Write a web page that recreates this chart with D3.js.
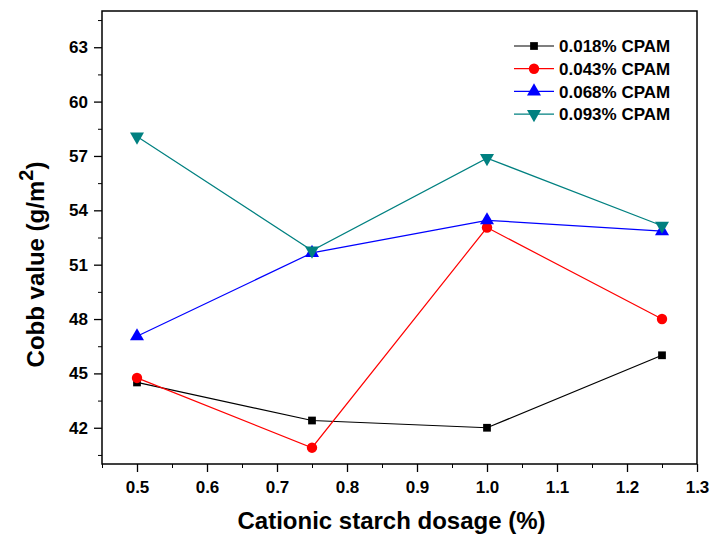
<!DOCTYPE html>
<html>
<head>
<meta charset="utf-8">
<script src="https://cdn.jsdelivr.net/npm/d3@7"></script>
<style>
  body { margin: 0; background: #fff; }
  svg text { font-family: "Liberation Sans", Arial, sans-serif; font-weight: bold; }
</style>
</head>
<body>
<svg id="chart"></svg>
<script>
// data
const dosage = [0.5, 0.75, 1.0, 1.25];
const cpam018 = [44.5, 42.4, 42.0, 46.0];
const cpam043 = [44.75, 40.9, 53.05, 48.0];
const cpam068 = [47.05, 51.65, 53.45, 52.85];
const cpam093 = [58.07, 51.78, 56.88, 53.15];
const seriesNames = ['0.018% CPAM', '0.043% CPAM', '0.068% CPAM', '0.093% CPAM'];
const yTicks = [42, 45, 48, 51, 54, 57, 60, 63];
const xTicks = [0.5, 0.6, 0.7, 0.8, 0.9, 1.0, 1.1, 1.2, 1.3];

const series = [
  {name: seriesNames[0], values: cpam018, color: '#000000', symbol: d3.symbolSquare},
  {name: seriesNames[1], values: cpam043, color: '#ff0000', symbol: d3.symbolCircle},
  {name: seriesNames[2], values: cpam068, color: '#0000ff', symbol: d3.symbolTriangle},
  {name: seriesNames[3], values: cpam093, color: '#008080', symbol: 'down'}
];

const width = 710, height = 535;
const margin = {top: 11, right: 13, bottom: 71, left: 102};
const w = width - margin.left - margin.right;
const h = height - margin.top - margin.bottom;

const svg = d3.select('#chart').attr('width', width).attr('height', height);
const chart = svg.append('g').attr('transform', `translate(${margin.left},${margin.top})`);

const x = d3.scaleLinear().domain([0.45, 1.3]).range([0, w]);
const y = d3.scaleLinear().domain([40, 65]).range([h, 0]);

// minor ticks
const xMinor = d3.range(0.45, 1.31, 0.1).map(v => +v.toFixed(2));
const yMinor = d3.range(40.5, 65, 3);

chart.append('g')
  .attr('transform', `translate(0,${h})`)
  .call(d3.axisBottom(x).tickValues(xMinor).tickSize(4).tickFormat(''))
  .call(g => g.select('.domain').remove());
chart.append('g')
  .call(d3.axisLeft(y).tickValues(yMinor).tickSize(4).tickFormat(''))
  .call(g => g.select('.domain').remove());

const xAxisG = chart.append('g')
  .attr('transform', `translate(0,${h})`)
  .call(d3.axisBottom(x).tickValues(xTicks).tickSize(8).tickPadding(9).tickFormat(d3.format('.1f')));
const yAxisG = chart.append('g')
  .call(d3.axisLeft(y).tickValues(yTicks).tickSize(8).tickPadding(6).tickFormat(d3.format('d')));

[xAxisG, yAxisG].forEach(g => {
  g.selectAll('text').style('font-size', '17px').attr('fill', '#000');
  g.selectAll('line').attr('stroke-width', 1.3);
  g.select('.domain').remove();
});

// frame
chart.append('rect')
  .attr('width', w).attr('height', h)
  .attr('fill', 'none').attr('stroke', '#000').attr('stroke-width', 1.5);

const markerPath = s => {
  if (s === 'down') return d3.symbol(d3.symbolTriangle).size(85)();
  if (s === d3.symbolSquare) return d3.symbol(s).size(60)();
  return d3.symbol(s).size(85)();
};

const line = d3.line().x(d => x(d[0])).y(d => y(d[1]));

series.forEach(s => {
  const pts = dosage.map((d, i) => [d, s.values[i]]);
  chart.append('path')
    .datum(pts)
    .attr('fill', 'none')
    .attr('stroke', s.color)
    .attr('stroke-width', 1.2)
    .attr('d', line);
  chart.selectAll(null)
    .data(pts)
    .join('path')
    .attr('d', markerPath(s.symbol))
    .attr('fill', s.color)
    .attr('transform', d => `translate(${x(d[0])},${y(d[1])})${s.symbol === 'down' ? ' rotate(180)' : ''}`);
});

// legend
const legend = svg.append('g').attr('transform', 'translate(514,46)');
series.forEach((s, i) => {
  const row = legend.append('g').attr('transform', `translate(0,${i * 22.7})`);
  row.append('line').attr('x1', 0).attr('x2', 40).attr('stroke', s.color).attr('stroke-width', 1.2);
  row.append('path')
    .attr('d', markerPath(s.symbol))
    .attr('fill', s.color)
    .attr('transform', `translate(20,0)${s.symbol === 'down' ? ' rotate(180)' : ''}`);
  row.append('text')
    .attr('x', 45).attr('dy', '0.36em')
    .style('font-size', '17px')
    .text(s.name);
});

// axis titles
svg.append('text')
  .attr('x', margin.left + w / 2 - 8)
  .attr('y', 529)
  .attr('text-anchor', 'middle')
  .style('font-size', '24px')
  .text('Cationic starch dosage (%)');

const yt = svg.append('text')
  .attr('transform', `translate(44,${margin.top + h / 2 + 27}) rotate(-90)`)
  .attr('text-anchor', 'middle')
  .style('font-size', '24px');
yt.append('tspan').text('Cobb value (g/m');
yt.append('tspan').attr('dy', -11).style('font-size', '20px').text('2');
yt.append('tspan').attr('dy', 11).text(')');
</script>
</body>
</html>
